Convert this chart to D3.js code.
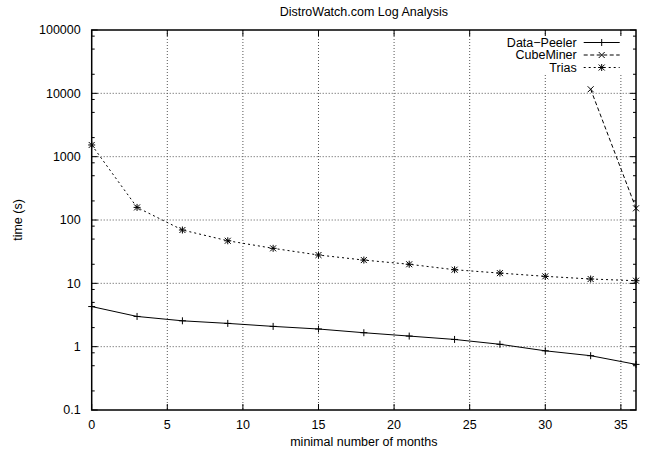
<!DOCTYPE html>
<html>
<head>
<meta charset="utf-8">
<script src="https://cdn.jsdelivr.net/npm/d3@7"></script>
<style>
  body { margin: 0; background: #fff; }
  text { font-family: "Liberation Sans", Arial, sans-serif; font-size: 12.5px; fill: #000; }
</style>
</head>
<body>
<div id="chart"></div>
<script>
// values
const months = [0, 3, 6, 9, 12, 15, 18, 21, 24, 27, 30, 33, 36];
const dataPeeler = [4.3, 3.0, 2.56, 2.33, 2.09, 1.9, 1.66, 1.47, 1.3, 1.09, 0.86, 0.72, 0.525];
const trias = [1530, 158, 69.5, 47, 35.7, 28, 23.3, 20, 16.4, 14.5, 12.9, 11.7, 11.0];
const cubeMonths = [33, 36];
const cubeMiner = [11600, 153];

const xTicks = [0, 5, 10, 15, 20, 25, 30, 35];
const yTicks = [0.1, 1, 10, 100, 1000, 10000, 100000];
const yTickLabels = ["0.1", "1", "10", "100", "1000", "10000", "100000"];
const minorMult = [2, 5, 8];

const W = 645, H = 453;
const margin = { top: 30, right: 9, bottom: 43, left: 91.7 };
const width = W - margin.left - margin.right;
const height = H - margin.top - margin.bottom;

const x = d3.scaleLinear().domain([0, 36]).range([0, width]);
const y = d3.scaleLog().domain([0.1, 100000]).range([height, 0]);

const svg = d3.select("#chart").append("svg")
  .attr("width", W).attr("height", H);

const g = svg.append("g")
  .attr("transform", "translate(" + margin.left + "," + margin.top + ")");

// grid
g.selectAll(".vgrid").data(xTicks.slice(1))
  .enter().append("line")
  .attr("x1", d => x(d)).attr("x2", d => x(d))
  .attr("y1", 0).attr("y2", height)
  .attr("stroke", "#555").attr("stroke-width", 1)
  .attr("stroke-dasharray", "1,2");
g.selectAll(".hgrid").data(yTicks.slice(1, -1))
  .enter().append("line")
  .attr("x1", 0).attr("x2", width)
  .attr("y1", d => y(d)).attr("y2", d => y(d))
  .attr("stroke", "#555").attr("stroke-width", 1)
  .attr("stroke-dasharray", "1,2");

// blank area under the legend
g.append("rect")
  .attr("x", 410).attr("y", 5)
  .attr("width", width - 414).attr("height", 39)
  .attr("fill", "#fff");

// ticks (inward, mirrored)
const minors = [];
yTicks.slice(0, -1).forEach(t => minorMult.forEach(m => minors.push(t * m)));

const tickG = g.append("g").attr("stroke", "#000").attr("stroke-width", 1);
yTicks.forEach(t => {
  tickG.append("line").attr("x1", 0).attr("x2", 6).attr("y1", y(t)).attr("y2", y(t));
  tickG.append("line").attr("x1", width).attr("x2", width - 6).attr("y1", y(t)).attr("y2", y(t));
});
minors.forEach(t => {
  tickG.append("line").attr("x1", 0).attr("x2", 3).attr("y1", y(t)).attr("y2", y(t));
  tickG.append("line").attr("x1", width).attr("x2", width - 3).attr("y1", y(t)).attr("y2", y(t));
});
xTicks.forEach(t => {
  tickG.append("line").attr("x1", x(t)).attr("x2", x(t)).attr("y1", height).attr("y2", height - 6);
  tickG.append("line").attr("x1", x(t)).attr("x2", x(t)).attr("y1", 0).attr("y2", 6);
});

// tick labels
g.selectAll(".ylab").data(yTicks)
  .enter().append("text")
  .attr("x", -11).attr("y", d => y(d)).attr("dy", "0.35em")
  .attr("text-anchor", "end")
  .text((d, i) => yTickLabels[i]);
g.selectAll(".xlab").data(xTicks)
  .enter().append("text")
  .attr("x", d => x(d)).attr("y", height + 19)
  .attr("text-anchor", "middle")
  .text(d => d);

// border
g.append("rect")
  .attr("width", width).attr("height", height)
  .attr("fill", "none").attr("stroke", "#000").attr("stroke-width", 1.5);

// titles
svg.append("text")
  .attr("x", margin.left + width / 2).attr("y", 15.5)
  .attr("text-anchor", "middle")
  .text("DistroWatch.com Log Analysis");
svg.append("text")
  .attr("x", margin.left + width / 2).attr("y", 446)
  .attr("text-anchor", "middle")
  .text("minimal number of months");
svg.append("text")
  .attr("transform", "translate(22," + (margin.top + height / 2) + ") rotate(-90)")
  .attr("text-anchor", "middle")
  .text("time (s)");

// markers
function drawPlus(sel, cx, cy) {
  sel.append("path")
    .attr("d", `M${cx - 3.5},${cy}H${cx + 3.5}M${cx},${cy - 3.5}V${cy + 3.5}`)
    .attr("stroke", "#000").attr("stroke-width", 1).attr("fill", "none");
}
function drawCross(sel, cx, cy) {
  sel.append("path")
    .attr("d", `M${cx - 3},${cy - 3}L${cx + 3},${cy + 3}M${cx - 3},${cy + 3}L${cx + 3},${cy - 3}`)
    .attr("stroke", "#000").attr("stroke-width", 1).attr("fill", "none");
}
function drawStar(sel, cx, cy) {
  drawPlus(sel, cx, cy);
  drawCross(sel, cx, cy);
}

const line = d3.line().x(d => x(d[0])).y(d => y(d[1]));

const series = [
  { name: "Data\u2212Peeler", xs: months, ys: dataPeeler, dash: null, mark: drawPlus },
  { name: "CubeMiner", xs: cubeMonths, ys: cubeMiner, dash: "4,2.5", mark: drawCross },
  { name: "Trias", xs: months, ys: trias, dash: "2,3", mark: drawStar }
];

series.forEach((s, i) => {
  const pts = s.xs.map((v, j) => [v, s.ys[j]]);
  g.append("path")
    .datum(pts)
    .attr("d", line)
    .attr("fill", "none")
    .attr("stroke", "#000")
    .attr("stroke-width", 1)
    .attr("stroke-dasharray", s.dash);
  const mg = g.append("g");
  pts.forEach(p => s.mark(mg, x(p[0]), y(p[1])));

  // legend
  const ly = 12.5 + i * 12.5;
  g.append("text")
    .attr("x", 485).attr("y", ly).attr("dy", "0.35em")
    .attr("text-anchor", "end")
    .text(s.name);
  g.append("line")
    .attr("x1", 492).attr("x2", 528)
    .attr("y1", ly).attr("y2", ly)
    .attr("stroke", "#000").attr("stroke-width", 1)
    .attr("stroke-dasharray", s.dash);
  s.mark(g, 510, ly);
});
</script>
</body>
</html>
